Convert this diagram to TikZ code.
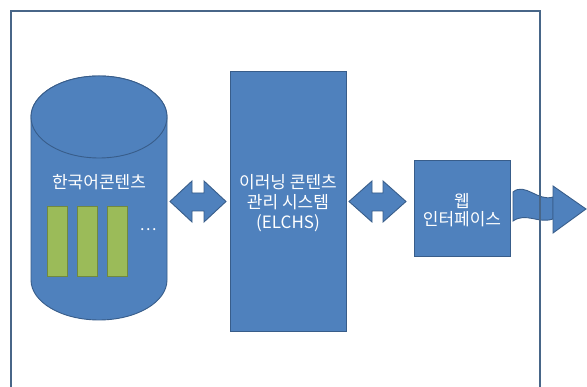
\documentclass[tikz,border=0pt]{standalone}
\usepackage{fontspec}
\newfontfamily\krfont{Noto Sans CJK KR}
\definecolor{fillblue}{RGB}{79,129,189}
\definecolor{lineblue}{RGB}{56,93,138}
\definecolor{framecol}{RGB}{72,102,136}
\definecolor{barfill}{RGB}{155,187,89}
\definecolor{barline}{RGB}{113,137,63}
\tikzset{
  blockshape/.style={fill=fillblue, draw=lineblue, line width=0.9pt, line join=miter},
  blockbox/.style={blockshape, rectangle, inner sep=0pt},
  lbl/.style={text=white, font=\krfont\fontsize{17}{20}\selectfont, align=center, inner sep=0pt},
  bar/.style={fill=barfill, draw=barline, line width=0.9pt}
}
\begin{document}
\begin{tikzpicture}[x=1pt,y=1pt]
\useasboundingbox (0,0) rectangle (587,387);
% frame background
\fill[white] (11,-20) rectangle (540,376);
% cylinder
\path[blockshape] (31,270) -- (31,107) arc[start angle=180,end angle=360,x radius=68,y radius=40]
  -- (167,270) arc[start angle=0,end angle=180,x radius=68,y radius=41] -- cycle;
\draw[blockshape] (99,270) ellipse [x radius=68, y radius=41];
\node[lbl] (dbtext) at (99,205) {한국어콘텐츠};
\draw[bar] (47,111) rectangle (67,181);
\draw[bar] (77,111) rectangle (97,181);
\draw[bar] (107,111) rectangle (127,181);
\node[text=white, font=\krfont\fontsize{16}{18}\selectfont, inner sep=0pt] (dots) at (148,157) {…};
% ELCHS
\node[blockbox, minimum width=116pt, minimum height=260pt] (elchs) at (288,186) {};
\node[lbl] (elchstext) at (288,184) {이러닝 콘텐츠\\관리 시스템\\(ELCHS)};
% web interface
\node[blockbox, minimum width=96pt, minimum height=96pt] (web) at (462,179) {};
\node[lbl, font=\krfont\fontsize{17}{18.5}\selectfont] (webtext) at (462,177) {웹\\인터페이스};
% double arrows
\path[blockshape] (170,185.5) -- (192,206) -- (192,194) -- (204,194) -- (204,206) -- (226,185.5)
  -- (204,165) -- (204,176) -- (192,176) -- (192,165) -- cycle;
\path[blockshape] (349,185.5) -- (372,206) -- (372,194) -- (383,194) -- (383,206) -- (406,185.5)
  -- (383,165) -- (383,176) -- (372,176) -- (372,165) -- cycle;
% wave arrow
\path[blockshape] (513,195) .. controls (525,205) and (538,185) .. (553,190) -- (553,168)
  .. controls (538,163) and (526,175) .. (513,166) -- cycle;
\path[blockshape] (553,201) -- (586,178) -- (553,154) -- cycle;
% frame outline
\draw[framecol, line width=1.3pt] (11,-20) rectangle (540,376);
\end{tikzpicture}
\end{document}
